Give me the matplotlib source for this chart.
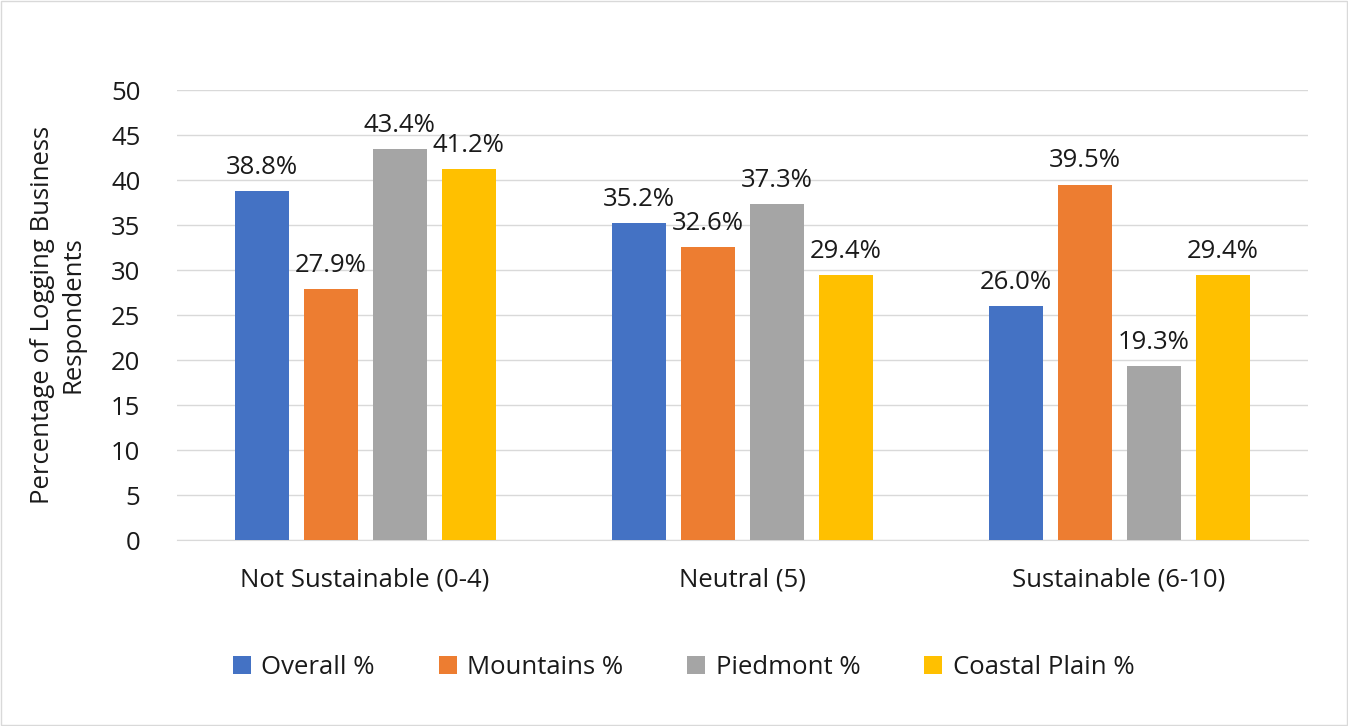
import matplotlib
matplotlib.use("Agg")
import matplotlib.pyplot as plt
import numpy as np
from matplotlib.patches import Rectangle

plt.rcParams['font.family'] = ['Open Sans', 'DejaVu Sans']

categories = ["Not Sustainable (0-4)", "Neutral (5)", "Sustainable (6-10)"]
series_names = ["Overall %", "Mountains %", "Piedmont %", "Coastal Plain %"]
overall = [38.8, 35.2, 26.0]
mountains = [27.9, 32.6, 39.5]
piedmont = [43.4, 37.3, 19.3]
coastal = [41.2, 29.4, 29.4]
colors = ["#4472C4", "#ED7D31", "#A5A5A5", "#FFC000"]

FS = 18.5
TXT = "#1a1a1a"

fig = plt.figure(figsize=(13.48, 7.26), dpi=100)
ax = fig.add_axes([0.131, 0.256, 0.839, 0.62])

x = np.arange(len(categories))
width = 0.143
step = 0.183
all_series = [overall, mountains, piedmont, coastal]
for i, (vals, name, c) in enumerate(zip(all_series, series_names, colors)):
    pos = x + (i - 1.5) * step
    ax.bar(pos, vals, width=width, color=c, label=name, zorder=3)
    for p, v in zip(pos, vals):
        ax.annotate(f"{v:.1f}%", (p, v), xytext=(0, 8), textcoords="offset points",
                    ha="center", va="bottom", fontsize=FS, color=TXT)

ax.set_xlim(-0.5, 2.5)
ax.set_ylim(0, 50)
ax.set_yticks(range(0, 51, 5))
ax.yaxis.grid(True, color="#d9d9d9", linewidth=1, zorder=0)
ax.set_xticks(x)
ax.set_xticklabels(categories)
ax.tick_params(axis="both", length=0, labelsize=FS, colors=TXT)
ax.tick_params(axis="x", pad=20)
ax.tick_params(axis="y", pad=26)
for s in ["top", "right", "left"]:
    ax.spines[s].set_visible(False)
ax.spines["bottom"].set_color("#d9d9d9")
ax.set_ylabel("Percentage of Logging Business\nRespondents", fontsize=FS, color=TXT,
              labelpad=18, linespacing=1.3)

# legend centred on the whole figure, below the axes
fig.legend(*ax.get_legend_handles_labels(), loc="center", bbox_to_anchor=(0.507, 0.081),
           ncol=4, frameon=False, fontsize=FS, handlelength=0.7, handleheight=0.7,
           columnspacing=2.5, handletextpad=0.4, labelcolor=TXT)

fig.patches.append(Rectangle((0.001, 0.001), 0.998, 0.998, transform=fig.transFigure,
                             fill=False, edgecolor="#d9d9d9", linewidth=1))

fig.savefig("out.png", dpi=100)
